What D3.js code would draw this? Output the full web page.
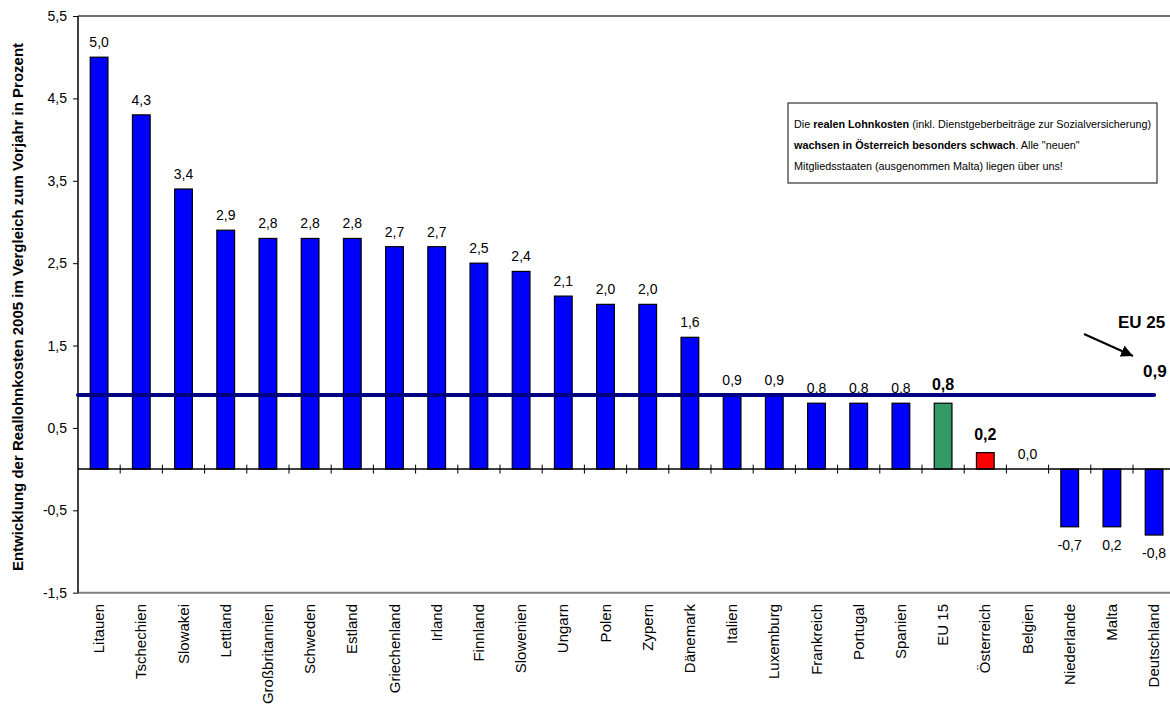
<!DOCTYPE html>
<html>
<head>
<meta charset="utf-8">
<script src="https://cdn.jsdelivr.net/npm/d3@7"></script>
<style>
  body { margin: 0; background: #fff; }
  svg { display: block; font-family: Arial, "Liberation Sans", sans-serif; }
</style>
</head>
<body>
<svg id="chart" width="1170" height="713"></svg>
<script>
// data
const categories = ["Litauen", "Tschechien", "Slowakei", "Lettland", "Großbritannien", "Schweden",
  "Estland", "Griechenland", "Irland", "Finnland", "Slowenien", "Ungarn", "Polen", "Zypern",
  "Dänemark", "Italien", "Luxemburg", "Frankreich", "Portugal", "Spanien", "EU 15",
  "Österreich", "Belgien", "Niederlande", "Malta", "Deutschland"];
const values = [5.0, 4.3, 3.4, 2.9, 2.8, 2.8, 2.8, 2.7, 2.7, 2.5, 2.4, 2.1, 2.0, 2.0,
  1.6, 0.9, 0.9, 0.8, 0.8, 0.8, 0.8, 0.2, 0.0, -0.7, -0.7, -0.8];
// labels as printed (Malta is labelled 0,2 in the original)
const valueLabels = ["5,0", "4,3", "3,4", "2,9", "2,8", "2,8", "2,8", "2,7", "2,7", "2,5",
  "2,4", "2,1", "2,0", "2,0", "1,6", "0,9", "0,9", "0,8", "0,8", "0,8", "0,8", "0,2",
  "0,0", "-0,7", "0,2", "-0,8"];
const highlight = { "EU 15": "#339966", "Österreich": "#ff0000" };
const eu25 = 0.9;
const eu25Label = "0,9";
const yTicks = [-1.5, -0.5, 0.5, 1.5, 2.5, 3.5, 4.5, 5.5];
const noteLines = [
  [["Die ", false], ["realen Lohnkosten", true], [" (inkl. Dienstgeberbeiträge zur Sozialversicherung)", false]],
  [["wachsen in Österreich besonders schwach", true], [". Alle \"neuen\"", false]],
  [["Mitgliedsstaaten (ausgenommen Malta) liegen über uns!", false]]
];

const svg = d3.select("#chart");
const plotLeft = 78, plotTop = 16, plotBottom = 592.7, step = 42.2;

const x = d3.scaleBand()
  .domain(categories)
  .range([plotLeft, plotLeft + step * categories.length])
  .padding(0);
const y = d3.scaleLinear().domain([-1.5, 5.5]).range([plotBottom, plotTop]);
const bw = x.bandwidth();
const barW = bw * 0.42;
const fmt = d => d.toFixed(1).replace(".", ",");

// frame lines
svg.append("line").attr("x1", plotLeft).attr("x2", 1170).attr("y1", plotTop).attr("y2", plotTop)
  .attr("stroke", "#707070").attr("stroke-width", 2);
svg.append("line").attr("x1", plotLeft).attr("x2", 1170).attr("y1", plotBottom).attr("y2", plotBottom)
  .attr("stroke", "#808080").attr("stroke-width", 2);

// y axis
const yAxis = svg.append("g")
  .attr("transform", `translate(${plotLeft},0)`)
  .call(d3.axisLeft(y).tickValues(yTicks).tickSize(5).tickSizeOuter(0).tickFormat(fmt));
yAxis.select(".domain").remove();
yAxis.selectAll("line").attr("stroke", "#000");
yAxis.selectAll("text").attr("font-size", 14).attr("fill", "#000")
  .attr("font-family", "Arial, 'Liberation Sans', sans-serif").attr("x", -11);
svg.append("line").attr("x1", plotLeft).attr("x2", plotLeft).attr("y1", plotTop).attr("y2", plotBottom)
  .attr("stroke", "#000").attr("stroke-width", 1.5);

// y title
svg.append("text")
  .attr("transform", "translate(23,307) rotate(-90)")
  .attr("text-anchor", "middle")
  .attr("font-size", 15).attr("font-weight", "bold")
  .text("Entwicklung der Reallohnkosten 2005 im Vergleich zum Vorjahr in Prozent");

// bars
svg.append("g").selectAll("rect")
  .data(categories)
  .join("rect")
  .attr("x", d => x(d) + (bw - barW) / 2)
  .attr("width", barW)
  .attr("y", (d, i) => y(Math.max(0, values[i])))
  .attr("height", (d, i) => Math.abs(y(values[i]) - y(0)))
  .attr("fill", d => highlight[d] || "#0000ff")
  .attr("stroke", "#000").attr("stroke-width", 1.2);

// zero line + category ticks
svg.append("line").attr("x1", plotLeft).attr("x2", 1170).attr("y1", y(0)).attr("y2", y(0))
  .attr("stroke", "#000").attr("stroke-width", 1.5);
svg.append("g").selectAll("line")
  .data(categories.slice(1))
  .join("line")
  .attr("x1", d => x(d)).attr("x2", d => x(d))
  .attr("y1", y(0) - 4.5).attr("y2", y(0) + 4.5)
  .attr("stroke", "#000");

// value labels
svg.append("g").selectAll("text")
  .data(categories)
  .join("text")
  .attr("x", d => x(d) + bw / 2)
  .attr("y", (d, i) => values[i] < 0 ? y(values[i]) + 23 : y(values[i]) - (highlight[d] ? 13 : 10))
  .attr("text-anchor", "middle")
  .attr("font-size", d => highlight[d] ? 16 : 14)
  .attr("font-weight", d => highlight[d] ? "bold" : "normal")
  .text((d, i) => valueLabels[i]);

// EU 25 line
svg.append("line")
  .attr("x1", plotLeft).attr("x2", x("Deutschland") + bw / 2)
  .attr("y1", y(eu25)).attr("y2", y(eu25))
  .attr("stroke", "#000080").attr("stroke-width", 4).attr("stroke-linecap", "round");

// category labels
svg.append("g").selectAll("text")
  .data(categories)
  .join("text")
  .attr("transform", d => `translate(${x(d) + bw / 2 + 5},604) rotate(-90)`)
  .attr("text-anchor", "end")
  .attr("font-size", 15)
  .text(d => d);

// EU 25 annotation
svg.append("defs").append("marker")
  .attr("id", "arrow").attr("viewBox", "0 0 10 10")
  .attr("refX", 10).attr("refY", 5)
  .attr("markerWidth", 6).attr("markerHeight", 6).attr("orient", "auto")
  .append("path").attr("d", "M0,0L10,5L0,10Z").attr("fill", "#000");
svg.append("text").attr("x", 1118).attr("y", 328)
  .attr("font-size", 17).attr("font-weight", "bold").text("EU 25");
svg.append("line").attr("x1", 1084).attr("y1", 334).attr("x2", 1133).attr("y2", 356)
  .attr("stroke", "#000").attr("stroke-width", 2).attr("marker-end", "url(#arrow)");
svg.append("text").attr("x", 1143).attr("y", 377)
  .attr("font-size", 17).attr("font-weight", "bold").text(eu25Label);

// note box
svg.append("rect").attr("x", 788).attr("y", 103).attr("width", 369).attr("height", 80)
  .attr("fill", "#fff").attr("stroke", "#333").attr("stroke-width", 1.2);
const note = svg.append("text").attr("font-size", 10.8);
noteLines.forEach((line, li) => {
  line.forEach((part, pi) => {
    const t = note.append("tspan").text(part[0]).attr("font-weight", part[1] ? "bold" : "normal");
    if (pi === 0) t.attr("x", 794).attr("y", 128 + li * 21);
  });
});
</script>
</body>
</html>
